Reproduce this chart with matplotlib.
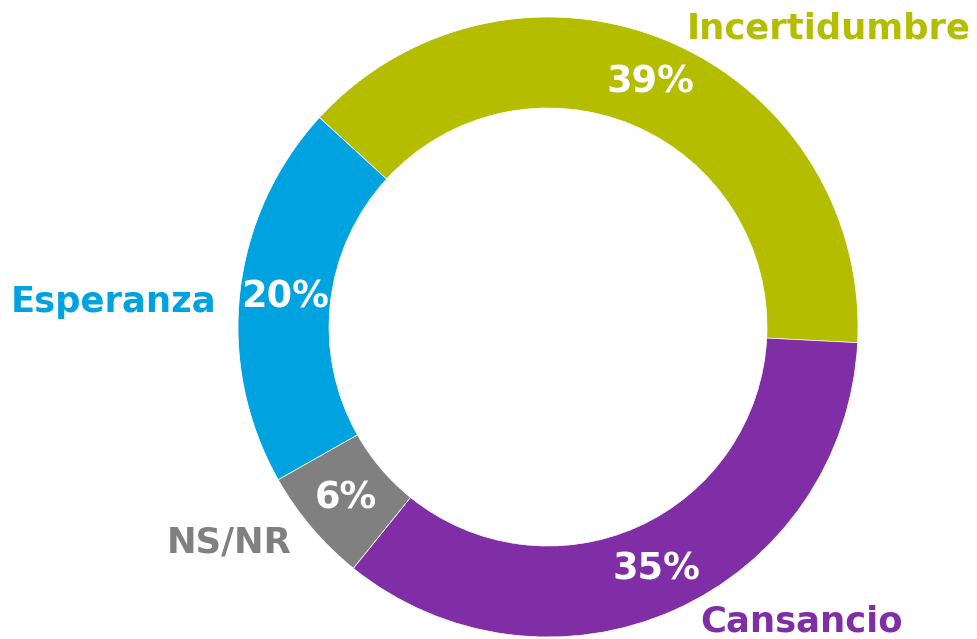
import matplotlib
matplotlib.use("Agg")
import matplotlib.pyplot as plt

# data
categories = ["Incertidumbre", "Cansancio", "NS/NR", "Esperanza"]
values = [39, 35, 6, 20]
colors = ["#B5BD00", "#7F2EA6", "#808080", "#00A3E0"]

# label spots (pixels from top-left)
label_pos = {
    "Incertidumbre": (829, 28),
    "Cansancio": (801, 622),
    "NS/NR": (229, 543),
    "Esperanza": (114, 302),
}

W, H = 978, 639
fig = plt.figure(figsize=(W / 100, H / 100), dpi=100)
ax = fig.add_axes([0, 0, 1, 1])

wedges, texts, autotexts = ax.pie(
    values,
    colors=colors,
    startangle=137.5,
    counterclock=False,
    center=(548, H - 327),
    radius=310,
    autopct="%d%%",
    pctdistance=0.855,
    wedgeprops=dict(width=91, edgecolor="white", linewidth=0.5),
    textprops=dict(color="white", fontsize=26.5, fontweight="bold", family="DejaVu Sans"),
    frame=True,
)
ax.axis("off")
ax.set_xlim(0, W)
ax.set_ylim(0, H)
ax.set_aspect("equal")

for cat, col in zip(categories, colors):
    x, y = label_pos[cat]
    ax.text(x, H - y, cat, color=col, fontsize=25.5, fontweight="bold",
            ha="center", va="center", family="DejaVu Sans")

fig.savefig("out.png", dpi=100)
